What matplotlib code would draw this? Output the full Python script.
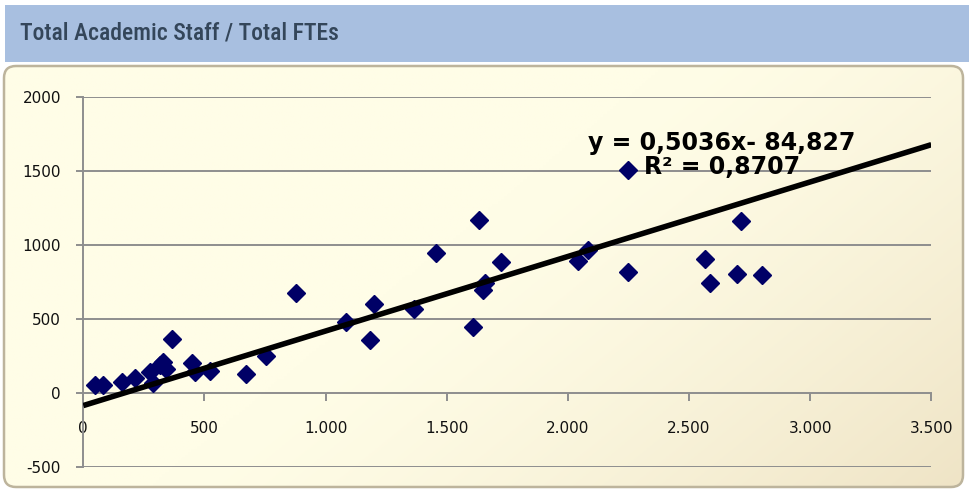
import matplotlib
matplotlib.use("Agg")
import matplotlib.pyplot as plt
import numpy as np
from matplotlib.patches import Rectangle, FancyBboxPatch

# data (x = total FTEs, y = total academic staff)
fte = [48, 80, 158, 213, 275, 289, 317, 330, 341, 365, 447, 461, 523, 671, 754,
       877, 1083, 1183, 1201, 1366, 1456, 1607, 1634, 1648, 1658, 1723,
       2043, 2084, 2249, 2249, 2566, 2587, 2697, 2713, 2800]
staff = [54, 54, 76, 99, 144, 65, 189, 211, 160, 365, 200, 144, 151, 128, 250,
         678, 478, 358, 601, 565, 948, 448, 1169, 696, 745, 887,
         894, 966, 1507, 820, 903, 741, 804, 1162, 797]

slope = 0.5036
intercept = -84.827
r2 = 0.8707

x_ticks = [0, 500, 1000, 1500, 2000, 2500, 3000, 3500]
x_labels = ["0", "500", "1.000", "1.500", "2.000", "2.500", "3.000", "3.500"]
y_ticks = [-500, 0, 500, 1000, 1500, 2000]

title = "Total Academic Staff / Total FTEs"

W, H = 969, 490
fig = plt.figure(figsize=(W / 100, H / 100), dpi=100)
fig.patch.set_facecolor("white")

# background: title band + chart area with cream gradient
bg = fig.add_axes([0, 0, 1, 1])
bg.set_xlim(0, W)
bg.set_ylim(H, 0)
bg.axis("off")

bg.add_patch(Rectangle((5, 5), W - 5, 57, facecolor="#A8BFE0", edgecolor="none"))
bg.text(20, 33, title, fontsize=17, fontweight="medium", color="#34465A", va="center", ha="left",
        family=["Liberation Sans Narrow", "Roboto Condensed", "DejaVu Sans Condensed", "Roboto"])

u = np.linspace(0, 1, 300)
v = np.linspace(0, 1, 150)
U, V = np.meshgrid(u, v)
t = np.clip((0.65 * U + 0.35 * V - 0.45) / 0.55, 0, 1) ** 1.4
c0 = np.array([255, 253, 231]) / 255
c1 = np.array([239, 228, 198]) / 255
img = c0[None, None, :] * (1 - t[..., None]) + c1[None, None, :] * t[..., None]

box = FancyBboxPatch((4, 66), W - 10, H - 69, boxstyle="round,pad=0,rounding_size=12",
                     facecolor="none", edgecolor="#BDB49C", linewidth=1.8)
bg.add_patch(box)
im = bg.imshow(img, extent=(4, W - 6, H - 3, 66), aspect="auto", zorder=0)
im.set_clip_path(box)

# plot area
ax = fig.add_axes([83.3 / W, (H - 467) / H, (931.3 - 83.3) / W, (467 - 97) / H])
ax.patch.set_alpha(0)
ax.set_xlim(0, 3500)
ax.set_ylim(-500, 2000)

grid_c = "#8E8E8E"
for yv in y_ticks:
    if yv != 0:
        ax.axhline(yv, color=grid_c, linewidth=1.4, zorder=1)

for s in ["top", "right"]:
    ax.spines[s].set_visible(False)
ax.spines["bottom"].set_position(("data", 0))
ax.spines["bottom"].set_color(grid_c)
ax.spines["bottom"].set_linewidth(1.4)
ax.spines["left"].set_color(grid_c)
ax.spines["left"].set_linewidth(1.4)

ax.set_xticks(x_ticks)
ax.set_xticklabels(x_labels)
ax.set_yticks(y_ticks)
ax.set_yticklabels([str(v) for v in y_ticks])
ax.tick_params(axis="x", direction="out", length=6, width=1.4, color=grid_c,
               pad=14, labelsize=11, labelcolor="#111111")
ax.tick_params(axis="y", direction="out", length=5, width=1.4, color=grid_c,
               pad=11, labelsize=11, labelcolor="#111111")

ax.plot(fte, staff, linestyle="none", marker="D", markersize=9,
        color="#000066", zorder=3, clip_on=False)

xl = np.array([0, 3500])
ax.plot(xl, slope * xl + intercept, color="black", linewidth=4, zorder=4,
        solid_capstyle="butt")

eq = "y = %sx- %s\nR² = %s" % (str(slope).replace(".", ","),
                               str(-intercept).replace(".", ","),
                               str(r2).replace(".", ","))
ax.text(2636, 1608, eq, fontsize=17, fontweight="bold", ha="center", va="center",
        linespacing=1.05, color="black", zorder=5)

fig.savefig("out.png", dpi=100)
